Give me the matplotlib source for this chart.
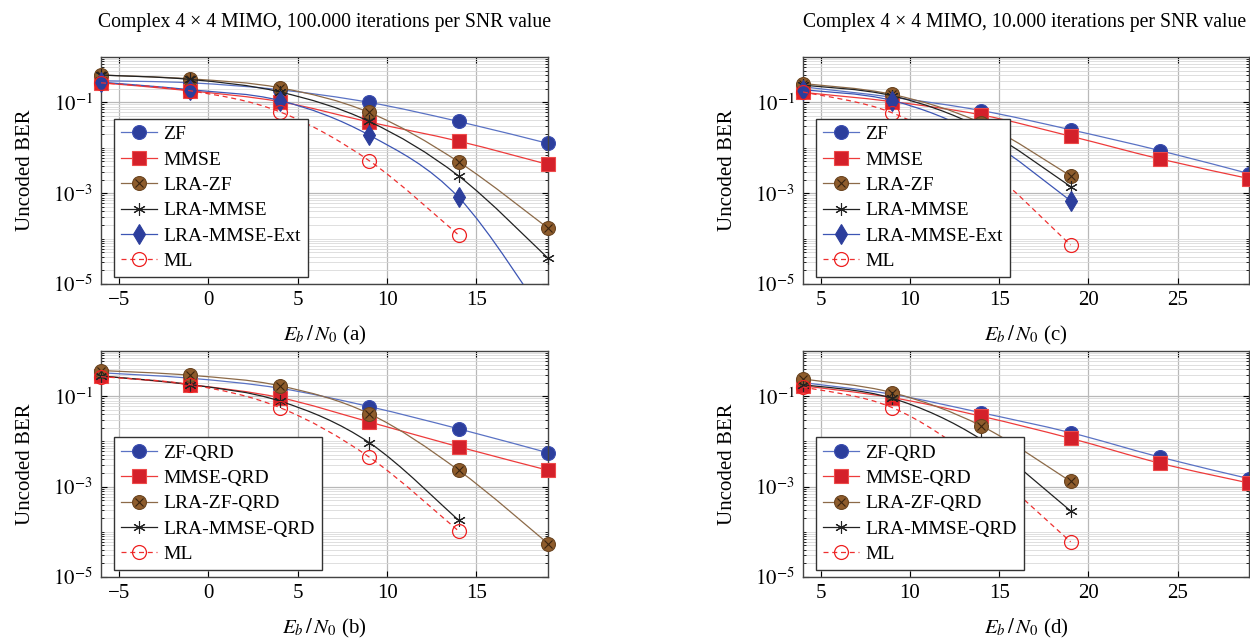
import numpy as np
import matplotlib
matplotlib.use("Agg")
import matplotlib.pyplot as plt
from matplotlib.path import Path
from matplotlib.patches import PathPatch
from matplotlib.lines import Line2D
from matplotlib.legend_handler import HandlerTuple

plt.rcParams['font.family'] = ['Liberation Serif', 'DejaVu Serif']
plt.rcParams['mathtext.fontset'] = 'stix'

# ---------------- data ----------------
snr_ab = [-6, -1, 4, 9, 14, 19]
snr_cd = [4, 9, 14, 19, 24, 29]

# panel (a): 100.000 iterations
a_zf = [0.30, 0.27, 0.19, 0.10, 0.038, 0.0125]
a_mmse = [0.27, 0.18, 0.104, 0.037, 0.014, 0.0043]
a_lrazf = [0.40, 0.33, 0.21, 0.060, 0.0049, 1.7e-4]
a_lrammse = [0.40, 0.32, 0.17, 0.038, 0.0024, 3.7e-5]
a_ext = [0.28, 0.19, 0.11, 0.019, 8.1e-4, 1.5e-6]
a_ml = [0.27, 0.18, 0.062, 0.0052, 1.2e-4]

# panel (c): 10.000 iterations
c_zf = [0.22, 0.13, 0.066, 0.025, 0.0087, 0.0027]
c_mmse = [0.166, 0.104, 0.053, 0.018, 0.0057, 0.0021]
c_lrazf = [0.26, 0.15, 0.035, 0.0024]
c_lrammse = [0.24, 0.14, 0.027, 0.0014]
c_ext = [0.19, 0.11, 0.018, 6.8e-4]
c_ml = [0.17, 0.059, 0.0045, 7.2e-5]

# panel (b): QRD, 100.000 iterations
b_zf = [0.33, 0.25, 0.15, 0.059, 0.019, 0.0056]
b_mmse = [0.28, 0.18, 0.093, 0.027, 0.0076, 0.0023]
b_lrazf = [0.37, 0.29, 0.17, 0.041, 0.0023, 5.5e-5]
b_lrammse = [0.28, 0.18, 0.078, 0.0094, 1.8e-4]
b_ml = [0.27, 0.18, 0.056, 0.0045, 1.04e-4]

# panel (d): QRD, 10.000 iterations
d_zf = [0.20, 0.11, 0.043, 0.0156, 0.0045, 0.0015]
d_mmse = [0.17, 0.093, 0.036, 0.0117, 0.0033, 0.0012]
d_lrazf = [0.24, 0.12, 0.022, 0.0013]
d_lrammse = [0.18, 0.09, 0.011, 2.9e-4]
d_ml = [0.16, 0.056, 0.0032, 6.0e-5]

titles = ["Complex 4 \u00d7 4 MIMO, 100.000 iterations per SNR value",
          "Complex 4 \u00d7 4 MIMO, 10.000 iterations per SNR value"]
names_top = ["ZF", "MMSE", "LRA-ZF", "LRA-MMSE", "LRA-MMSE-Ext", "ML"]
names_bot = ["ZF-QRD", "MMSE-QRD", "LRA-ZF-QRD", "LRA-MMSE-QRD", "ML"]

YMIN, YMAX = 1e-5, 1.0

# ---------------- styles ----------------
STY = {
    'zf': dict(line='#5a72c4', marker='o', mfc='#2c3e9c', mec='#3a4db0', ms=10, mew=0.8),
    'mmse': dict(line='#ee3b3b', marker='s', mfc='#d4202a', mec='#ee4a4a', ms=9.5, mew=0.8),
    'lrazf': dict(line='#8c6a48', marker='o', mfc='#8e5c2c', mec='#6a4420', ms=10, mew=0.8),
    'lrammse': dict(line='#222222', marker=(6, 2, 0), mfc='#222222', mec='#222222', ms=9, mew=0.8),
    'ext': dict(line='#3c55b4', marker='d', mfc='#2c3e9c', mec='#2c3e9c', ms=10, mew=0.8),
    'ml': dict(line='#ee3030', marker='o', mfc='none', mec='#ee2020', ms=10, mew=0.9),
}


def smooth_path(x, y, t=0.17):
    lx = np.asarray(x, float)
    ly = np.log10(np.asarray(y, float))
    n = len(lx)
    P = np.column_stack([lx, ly])
    verts = [P[0]]
    codes = [Path.MOVETO]
    for i in range(n - 1):
        p0 = P[i - 1] if i > 0 else P[i]
        p1, p2 = P[i], P[i + 1]
        p3 = P[i + 2] if i + 2 < n else P[i + 1]
        c1 = p1 + t * (p2 - p0)
        c2 = p2 - t * (p3 - p1)
        verts += [c1, c2, p2]
        codes += [Path.CURVE4] * 3
    V = np.array(verts)
    V[:, 1] = 10 ** V[:, 1]
    return Path(V, codes)


def draw(ax, x, y, key, dashed=False, z=2):
    s = STY[key]
    ls = (0, (4, 3)) if dashed else '-'
    patch = PathPatch(smooth_path(x, y), facecolor='none', edgecolor=s['line'],
                      lw=0.9, ls=ls, zorder=z)
    ax.add_patch(patch)
    xa = np.asarray(x, float)
    ya = np.asarray(y, float)
    inside = (ya >= YMIN) & (ya <= YMAX)
    ax.plot(xa[inside], ya[inside], ls='none', marker=s['marker'], mfc=s['mfc'],
            mec=s['mec'], ms=s['ms'], mew=s['mew'], zorder=z + 0.5, clip_on=False)
    h = Line2D([], [], color=s['line'], lw=0.9, ls=ls, marker=s['marker'],
               mfc=s['mfc'], mec=s['mec'], ms=s['ms'], mew=s['mew'])
    if key == 'lrazf':
        ax.plot(xa[inside], ya[inside], ls='none', marker='x', mec='#3a2410', ms=6,
                mew=0.8, zorder=z + 0.6, clip_on=False)
        hx = Line2D([], [], ls='none', marker='x', mec='#3a2410', ms=6, mew=0.8)
        return (h, hx)
    return h


fig = plt.figure(figsize=(12.5, 6.39), dpi=100)
W, H = 1250, 639


def make_ax(l, r, t, b):
    return fig.add_axes([l / W, 1 - b / H, (r - l) / W, (b - t) / H])


axa = make_ax(101, 548, 57, 284)
axc = make_ax(803, 1249, 57, 284)
axb = make_ax(101, 548, 351, 577)
axd = make_ax(803, 1249, 351, 577)

panels = [
    (axa, snr_ab, [a_zf, a_mmse, a_lrazf, a_lrammse, a_ext, a_ml], names_top, '(a)', (-6, 19), [-5, 0, 5, 10, 15]),
    (axc, snr_cd, [c_zf, c_mmse, c_lrazf, c_lrammse, c_ext, c_ml], names_top, '(c)', (4, 29), [5, 10, 15, 20, 25]),
    (axb, snr_ab, [b_zf, b_mmse, b_lrazf, b_lrammse, b_ml], names_bot, '(b)', (-6, 19), [-5, 0, 5, 10, 15]),
    (axd, snr_cd, [d_zf, d_mmse, d_lrazf, d_lrammse, d_ml], names_bot, '(d)', (4, 29), [5, 10, 15, 20, 25]),
]

for ax, xs, series, names, tag, xl, xt in panels:
    ax.set_yscale('log')
    if len(series) == 6:
        keys = ['zf', 'mmse', 'lrazf', 'lrammse', 'ext', 'ml']
    else:
        keys = ['zf', 'mmse', 'lrazf', 'lrammse', 'ml']
    handles = []
    for i, (ys, k) in enumerate(zip(series, keys)):
        handles.append(draw(ax, xs[:len(ys)], ys, k, dashed=(k == 'ml'), z=2 + i))
    ax.set_xlim(*xl)
    ax.set_ylim(YMIN, YMAX)
    ax.set_xticks(xt)
    ax.set_xticklabels([str(v).replace('-', '\u2212') for v in xt])
    ax.set_yticks([1e-5, 1e-3, 1e-1])
    ax.set_yticklabels([r'$10^{-5}$', r'$10^{-3}$', r'$10^{-1}$'])
    minors = []
    for e in range(-5, 0):
        for m in range(1, 10):
            v = m * 10.0 ** e
            if v not in (1e-5, 1e-3, 1e-1):
                minors.append(v)
    minors.append(1.0)
    ax.yaxis.set_minor_locator(matplotlib.ticker.FixedLocator(minors))
    ax.yaxis.set_minor_formatter(matplotlib.ticker.NullFormatter())
    ax.grid(True, which='major', color='#b8b8b8', lw=0.9, zorder=0)
    ax.grid(True, which='minor', axis='y', color='#d9d9d9', lw=0.6, zorder=0)
    ax.set_axisbelow(True)
    ax.tick_params(which='both', direction='in', top=True, right=True, labelsize=15, length=4)
    ax.tick_params(which='minor', length=2)
    ax.tick_params(axis='x', pad=5)
    ax.tick_params(axis='y', pad=6)
    for sp in ax.spines.values():
        sp.set_color('#444444')
        sp.set_linewidth(1.0)
    ax.set_xlabel(r'$E_b\,/\,N_0$ ' + tag, fontsize=15, labelpad=10)
    ax.set_ylabel('Uncoded BER', fontsize=15, labelpad=13)
    leg = ax.legend(handles, names, loc='lower left', bbox_to_anchor=(0.029, 0.031),
                    borderaxespad=0, fontsize=14, frameon=True, fancybox=False,
                    edgecolor='#333333', framealpha=1, handlelength=1.85,
                    handletextpad=0.35, labelspacing=0.4, borderpad=0.35,
                    handler_map={tuple: HandlerTuple(ndivide=1)})
    leg.get_frame().set_linewidth(1.0)
    leg.set_zorder(20)

fig.text(325 / W, 1 - 22 / H, titles[0], ha='center', va='center', fontsize=14.2)
fig.text(1025 / W, 1 - 22 / H, titles[1], ha='center', va='center', fontsize=14.2)

fig.savefig('out.png', dpi=100)
